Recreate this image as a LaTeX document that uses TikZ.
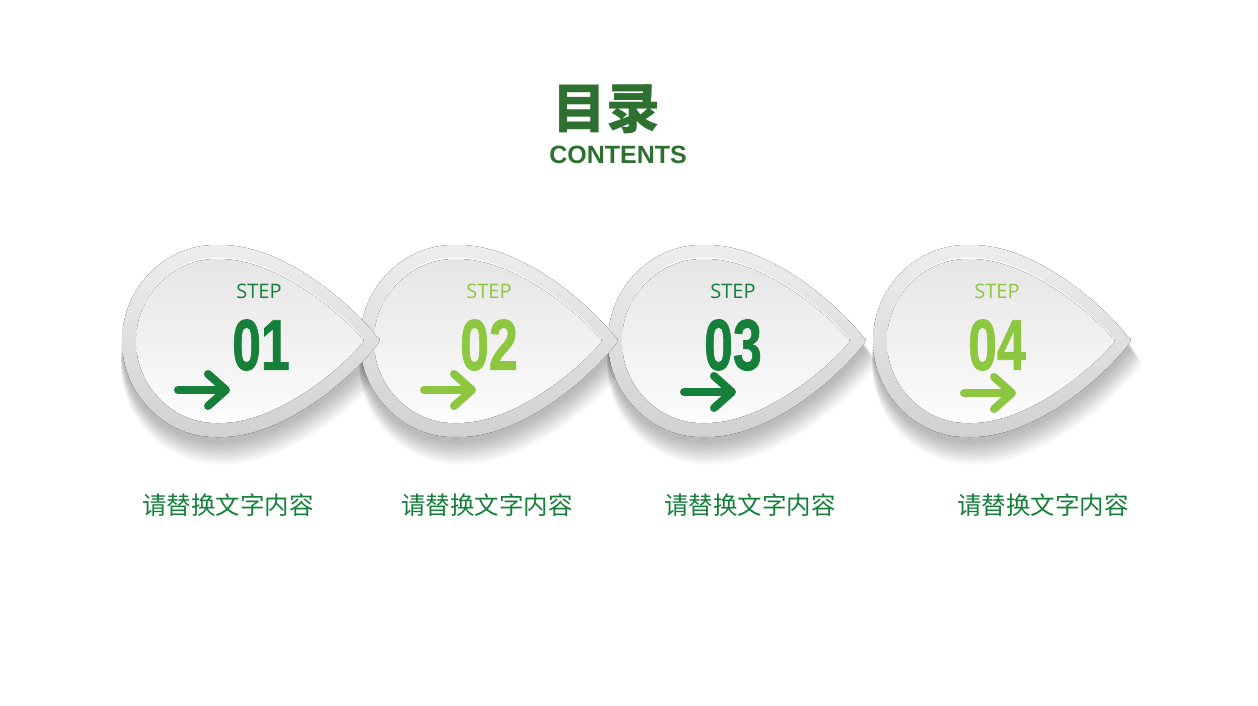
\documentclass[tikz,border=0pt]{standalone}
\usepackage{fontspec}
\usepackage{graphicx}
\setmainfont{Liberation Sans}
\newfontfamily\cjk{Noto Sans CJK SC}
\newfontfamily\stepfont{Open Sans}
\newfontfamily\numfont{Liberation Sans Bold}[FakeBold=1.2]
\definecolor{deepgreen}{RGB}{22,128,58}
\definecolor{leafgreen}{RGB}{141,198,63}
\definecolor{titlegreen}{RGB}{45,112,48}
\newcommand\squeeze[1]{\scalebox{0.72}[1]{#1}}
\tikzset{
  steptag/.style={font=\stepfont\fontsize{20}{20}\selectfont},
  numtag/.style={font=\numfont\fontsize{72}{72}\selectfont},
  caption/.style={font=\cjk\fontsize{24.5}{24.5}\selectfont, text=deepgreen},
  pics/dropshade/.style={code={
    \foreach \k in {1,...,12}
      \fill[black, opacity=0.022, xshift=\k*0.3pt, yshift=-4pt-\k*1.6pt, scale=1+0.004*\k]
        (162pt,0pt) .. controls (140pt,30pt) and (70pt,96pt) .. (0pt,96pt)
        arc[start angle=90, end angle=270, radius=96pt]
        .. controls (70pt,-96pt) and (140pt,-30pt) .. (162pt,0pt) -- cycle;
  }},
  pics/drop/.style={code={
    \fill[top color=black!7, bottom color=black!18, rounded corners=3pt]
      (162pt,0pt) .. controls (140pt,30pt) and (70pt,96pt) .. (0pt,96pt)
      arc[start angle=90, end angle=270, radius=96pt]
      .. controls (70pt,-96pt) and (140pt,-30pt) .. (162pt,0pt) -- cycle;
    \fill[white, yshift=1.5pt, rounded corners=2pt]
      (146pt,0pt) .. controls (125pt,26pt) and (60pt,82pt) .. (0pt,82pt)
      arc[start angle=90, end angle=270, radius=82pt]
      .. controls (60pt,-82pt) and (125pt,-26pt) .. (146pt,0pt) -- cycle;
    \fill[top color=black!10, bottom color=black!1, rounded corners=2pt]
      (146pt,0pt) .. controls (125pt,26pt) and (60pt,82pt) .. (0pt,82pt)
      arc[start angle=90, end angle=270, radius=82pt]
      .. controls (60pt,-82pt) and (125pt,-26pt) .. (146pt,0pt) -- cycle;
  }},
  pics/go/.style={code={
    \draw[line width=8pt, line cap=round] (0,0) -- (46,0);
    \draw[line width=8pt, line cap=round, line join=round] (30,-16) -- (48,0) -- (30,16);
  }},
}

\begin{document}
\begin{tikzpicture}[x=1pt, y=-1pt]
        \useasboundingbox (0,0) rectangle (1258,706);
        \fill[white] (0,0) rectangle (1258,706);

        % title
        \node[font=\cjk\bfseries\fontsize{54}{54}\selectfont, text=titlegreen] (title) at (606,109) {目录};
        \node[font=\bfseries\fontsize{25}{25}\selectfont, text=titlegreen] (sub) at (618,155) {CONTENTS};

        % drops
        \pic at (218,341) {dropshade};
        \pic at (456,341) {dropshade};
        \pic at (704,341) {dropshade};
        \pic at (969,341) {dropshade};
        \pic (d4) at (969,341) {drop};
        \pic (d3) at (704,341) {drop};
        \pic (d2) at (456,341) {drop};
        \pic (d1) at (218,341) {drop};

        % steps
        \node[steptag, text=deepgreen] (s1) at (259,291) {STEP};
        \node[steptag, text=leafgreen] (s2) at (489,291) {STEP};
        \node[steptag, text=deepgreen] (s3) at (733,291) {STEP};
        \node[steptag, text=leafgreen] (s4) at (997,291) {STEP};
        \node[numtag, text=deepgreen] (n1) at (261,345) {\squeeze{01}};
        \node[numtag, text=leafgreen] (n2) at (489,345) {\squeeze{02}};
        \node[numtag, text=deepgreen] (n3) at (733,345) {\squeeze{03}};
        \node[numtag, text=leafgreen] (n4) at (997,345) {\squeeze{04}};

        % arrows
        \pic[deepgreen] (g1) at (178,390) {go};
        \pic[leafgreen] (g2) at (424,390) {go};
        \pic[deepgreen] (g3) at (684,392) {go};
        \pic[leafgreen] (g4) at (964,393) {go};

        % captions
        \node[caption] (l1) at (228,505) {请替换文字内容};
        \node[caption] (l2) at (487,505) {请替换文字内容};
        \node[caption] (l3) at (750,505) {请替换文字内容};
        \node[caption] (l4) at (1043,505) {请替换文字内容};
      \end{tikzpicture}
\end{document}
